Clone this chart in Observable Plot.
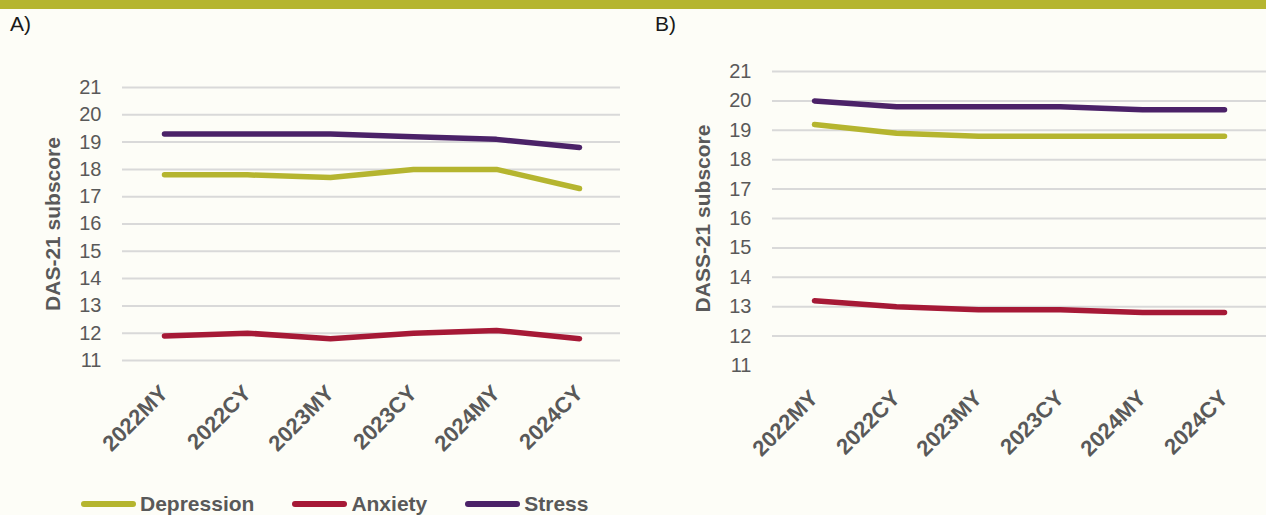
<!DOCTYPE html>
<html>
<head>
<meta charset="utf-8">
<script src="https://cdn.jsdelivr.net/npm/d3@7"></script>
<script src="https://cdn.jsdelivr.net/npm/@observablehq/plot@0.6"></script>
<style>
  html, body { margin: 0; padding: 0; }
  body { width: 1266px; height: 515px; overflow: hidden; background: #fdfdf7; position: relative;
         font-family: "Liberation Sans", Arial, sans-serif; }
  #bar { position: absolute; left: 0; top: 0; width: 1266px; height: 9px; background: #b5b52f; }
  .panel-tag { position: absolute; top: 12px; font-size: 21px; color: #1a1a1a; }
  #chartA { position: absolute; left: 0; top: 0; }
  #chartB { position: absolute; left: 640px; top: 0; }
  #legend { position: absolute; left: 81px; top: 492px; display: flex; align-items: center;
            font-size: 21px; font-weight: bold; color: #595959; }
  .item { display: flex; align-items: center; }
  .sw { display: inline-block; width: 55px; height: 6px; border-radius: 3px; margin-right: 4px; }
</style>
</head>
<body>
<div id="bar"></div>
<div class="panel-tag" style="left:10px">A)</div>
<div class="panel-tag" style="left:655px">B)</div>
<div id="chartA"></div>
<div id="chartB"></div>
<div id="legend"></div>
<script>
// ---- data ----
const periods = ["2022MY", "2022CY", "2023MY", "2023CY", "2024MY", "2024CY"];
const seriesNames = ["Depression", "Anxiety", "Stress"];
const seriesColors = ["#b5b52f", "#a61936", "#4b2268"];
const yTicks = [11, 12, 13, 14, 15, 16, 17, 18, 19, 20, 21];

// Panel A
const aDepression = [17.8, 17.8, 17.7, 18.0, 18.0, 17.3];
const aAnxiety    = [11.9, 12.0, 11.8, 12.0, 12.1, 11.8];
const aStress     = [19.3, 19.3, 19.3, 19.2, 19.1, 18.8];
const aLabel = "DAS-21 subscore";
const aGrid = [11, 12, 13, 14, 15, 16, 17, 18, 19, 20, 21];

// Panel B
const bDepression = [19.2, 18.9, 18.8, 18.8, 18.8, 18.8];
const bAnxiety    = [13.2, 13.0, 12.9, 12.9, 12.8, 12.8];
const bStress     = [20.0, 19.8, 19.8, 19.8, 19.7, 19.7];
const bLabel = "DASS-21 subscore";
const bGrid = [12, 13, 14, 15, 16, 17, 18, 19, 20, 21];

function tidy(dep, anx, str) {
  const rows = [];
  [dep, anx, str].forEach((vals, s) => {
    vals.forEach((v, i) => rows.push({period: periods[i], series: seriesNames[s], value: v}));
  });
  return rows;
}

function makeChart({rows, label, grid, width, marginLeft, marginRight, marginTop, marginBottom}) {
  return Plot.plot({
    width, height: 470,
    marginLeft, marginRight, marginTop, marginBottom,
    style: {background: "transparent", fontFamily: "'Liberation Sans', Arial, sans-serif", overflow: "visible"},
    x: {type: "point", domain: periods, padding: 0.5},
    y: {domain: [11, 21]},
    color: {domain: seriesNames, range: seriesColors},
    marks: [
      Plot.gridY(grid, {stroke: "#d9d9d9", strokeOpacity: 1, strokeWidth: 2}),
      Plot.axisY(yTicks, {tickSize: 0, tickPadding: 21, fontSize: 20, color: "#595959", label: null}),
      Plot.axisX({tickRotate: -45, tickSize: 0, tickPadding: 29, fontSize: 22, fontWeight: "bold", color: "#595959", label: null}),
      Plot.text([label], {frameAnchor: "left", textAnchor: "middle", rotate: -90, dx: -69, fontSize: 21, fontWeight: "bold", fill: "#595959"}),
      Plot.line(rows, {x: "period", y: "value", stroke: "series", strokeWidth: 5.5,
                       strokeLinecap: "round", strokeLinejoin: "round"})
    ]
  });
}

document.getElementById("chartA").append(makeChart({
  rows: tidy(aDepression, aAnxiety, aStress), label: aLabel, grid: aGrid,
  width: 633, marginLeft: 122, marginRight: 13, marginTop: 87, marginBottom: 110
}));
document.getElementById("chartB").append(makeChart({
  rows: tidy(bDepression, bAnxiety, bStress), label: bLabel, grid: bGrid,
  width: 626, marginLeft: 132, marginRight: 0, marginTop: 71, marginBottom: 105
}));

// legend
const legend = document.getElementById("legend");
const gaps = [0, 38, 38];
seriesNames.forEach((name, i) => {
  const item = document.createElement("div");
  item.className = "item";
  item.style.marginLeft = gaps[i] + "px";
  const sw = document.createElement("span");
  sw.className = "sw";
  sw.style.background = seriesColors[i];
  const t = document.createElement("span");
  t.textContent = name;
  item.append(sw, t);
  legend.append(item);
});
</script>
</body>
</html>
